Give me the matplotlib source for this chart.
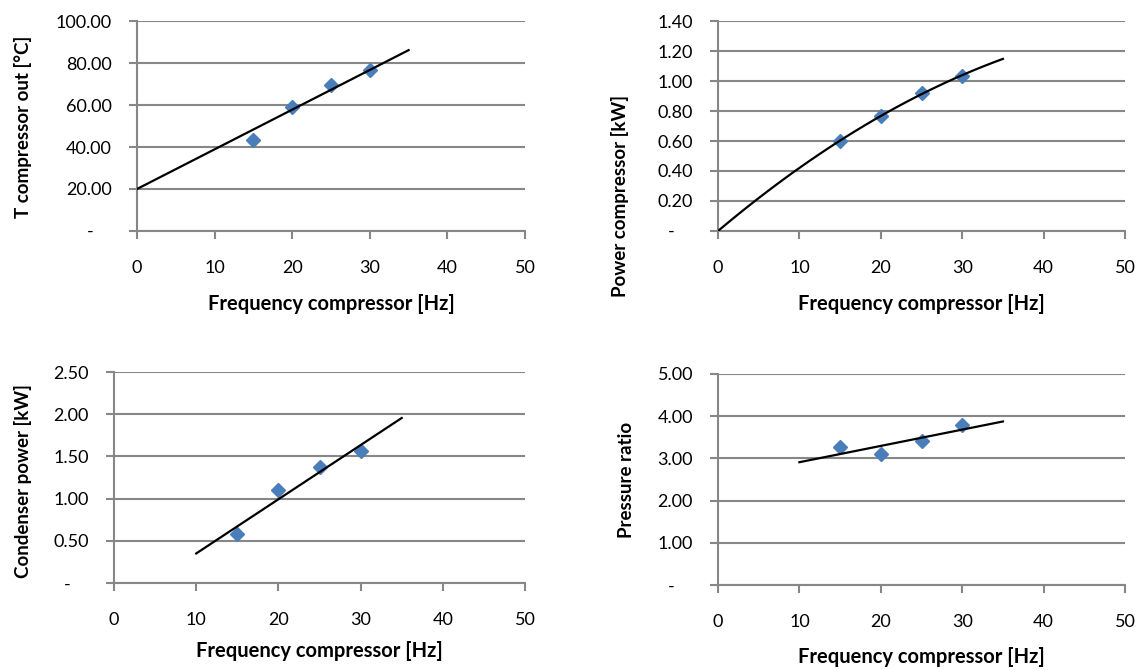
import matplotlib.pyplot as plt
from matplotlib.ticker import FuncFormatter
import numpy as np

plt.rcParams['font.family'] = ['Lato', 'DejaVu Sans']

freq = np.array([15, 20, 25, 30])
t_out = np.array([43.2, 59.2, 69.4, 76.5])
power_comp = np.array([0.60, 0.765, 0.92, 1.035])
cond_power = np.array([0.58, 1.10, 1.37, 1.56])
pressure_ratio = np.array([3.26, 3.10, 3.41, 3.80])

x_ticks = [0, 10, 20, 30, 40, 50]
xlabel = 'Frequency compressor [Hz]'

W, H = 1141, 670
fig = plt.figure(figsize=(W / 100, H / 100), dpi=100)

grid_col = '#878787'
blue = '#4A7EBB'


def yfmt(v, pos):
    if abs(v) < 1e-9:
        return '-    '
    return '%.2f' % v


def make_ax(l, r, t, b, ymax, ystep, ylabel, ylab_x, ylab_y, xlab_y):
    ax = fig.add_axes([l / W, 1 - b / H, (r - l) / W, (b - t) / H])
    ax.set_xlim(0, 50)
    ax.set_ylim(0, ymax)
    ax.set_xticks(x_ticks)
    ax.set_yticks(np.arange(0, ymax + ystep / 2, ystep))
    ax.yaxis.set_major_formatter(FuncFormatter(yfmt))
    ax.grid(axis='y', color=grid_col, lw=1.5)
    ax.set_axisbelow(True)
    for s in ['top', 'right']:
        ax.spines[s].set_visible(False)
    for s in ['left', 'bottom']:
        ax.spines[s].set_color(grid_col)
        ax.spines[s].set_linewidth(1.5)
    ax.tick_params(axis='y', length=6, width=1.5, color=grid_col, pad=12, labelsize=13)
    ax.tick_params(axis='x', length=6, width=1.5, color=grid_col, pad=15, labelsize=13)
    fig.text(ylab_x / W, 1 - ylab_y / H, ylabel, rotation=90, ha='center', va='center',
             fontsize=13.5, fontweight='bold')
    fig.text((l + r) / 2 / W, 1 - xlab_y / H, xlabel, ha='center', va='center',
             fontsize=14.5, fontweight='bold')
    return ax


def scatter(ax, y):
    ax.plot(freq, y, 'D', color=blue, ms=7, mec=blue, clip_on=False, zorder=3)


# T compressor out: linear trend, intercept set to 20
ax1 = make_ax(137, 525, 21, 231, 100, 20, 'T compressor out [°C]', 23, 127, 304)
slope1 = np.sum(freq * (t_out - 20)) / np.sum(freq ** 2)
xx = np.array([0, 35])
ax1.plot(xx, 20 + slope1 * xx, color='black', lw=1.6, zorder=4)
scatter(ax1, t_out)

# Power compressor: 2nd order trend through origin
ax2 = make_ax(718, 1125, 21, 231, 1.4, 0.2, 'Power compressor [kW]', 620, 196, 304)
A = np.column_stack([freq, freq ** 2])
coef2 = np.linalg.lstsq(A, power_comp, rcond=None)[0]
xx = np.linspace(0, 35, 100)
ax2.plot(xx, coef2[0] * xx + coef2[1] * xx ** 2, color='black', lw=1.6, zorder=4)
scatter(ax2, power_comp)

# Condenser power: linear trend
ax3 = make_ax(114, 525, 372, 583, 2.5, 0.5, 'Condenser power [kW]', 23, 481, 651)
p3 = np.polyfit(freq, cond_power, 1)
xx = np.array([10, 35])
ax3.plot(xx, np.polyval(p3, xx), color='black', lw=1.6, zorder=4)
scatter(ax3, cond_power)

# Pressure ratio: linear trend
ax4 = make_ax(718, 1125, 374, 585, 5, 1, 'Pressure ratio', 627, 480, 657)
p4 = np.polyfit(freq, pressure_ratio, 1)
ax4.plot(xx, np.polyval(p4, xx), color='black', lw=1.6, zorder=4)
scatter(ax4, pressure_ratio)

fig.savefig('out.png', dpi=100)
